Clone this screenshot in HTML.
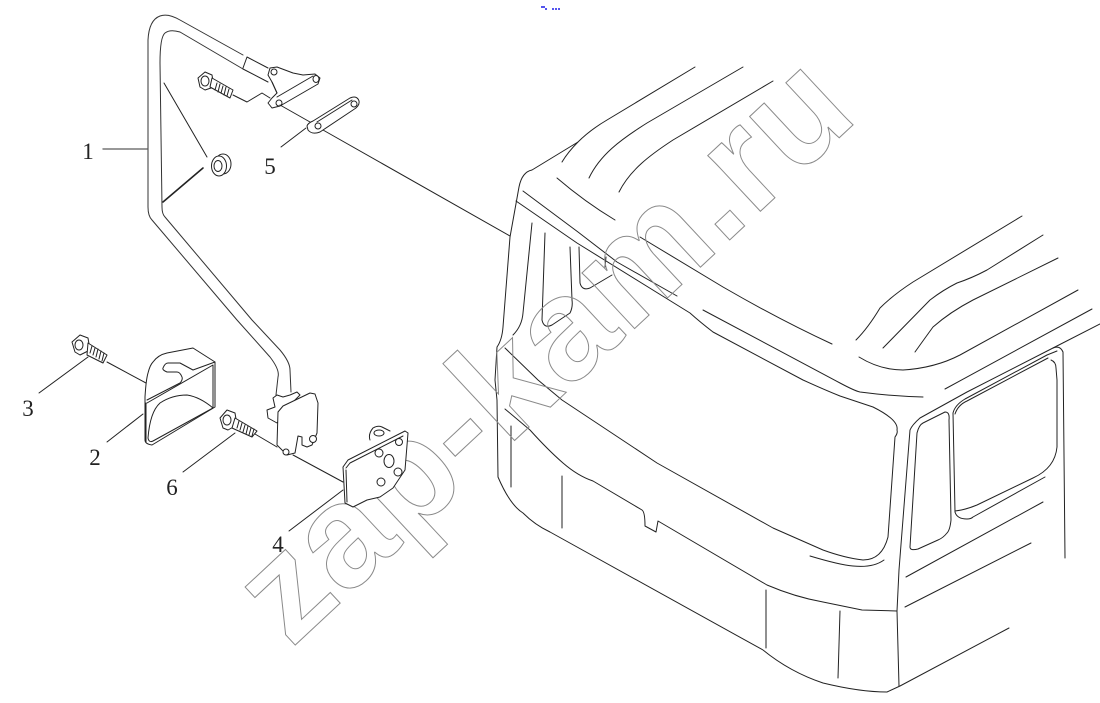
<!DOCTYPE html>
<html><head><meta charset="utf-8"><title>Diagram</title>
<style>
html,body{margin:0;padding:0;background:#fff}
svg{display:block}
.l{fill:none;stroke:#222;stroke-width:1;stroke-linejoin:round;stroke-linecap:round}
.w{fill:#fff;stroke:#222;stroke-width:1;stroke-linejoin:round}
.n{font-family:"Liberation Serif",serif;font-size:23px;fill:#222;text-anchor:middle}
.wm{font-family:"Liberation Sans",sans-serif;font-weight:bold;font-size:145px;fill:none;stroke:#8a8a8a;stroke-width:1;letter-spacing:1.4px}
</style></head><body>
<svg width="1100" height="703" viewBox="0 0 1100 703" xmlns="http://www.w3.org/2000/svg">
<rect x="541" y="6" width="4" height="2" fill="#5555ee"/><rect x="545" y="8" width="2" height="2" fill="#5555ee"/>
<rect x="552" y="8" width="2" height="2" fill="#5555ee"/><rect x="555" y="8" width="2" height="2" fill="#5555ee"/><rect x="558" y="8" width="2" height="2" fill="#5555ee"/>

<g class="l">
<!-- cab outline -->
<path d="M695 67L607 120Q590 130 578 142Q568 152 562 162"/>
<path d="M578 142L532 170Q522 172 519 187L510 237L503 327Q502 340 497 347L495 380L497 400L498 477Q510 505 523 513Q535 525 550 532L763 650Q790 672 823 683Q860 692 887 692L900 686L1009 628"/>
<path d="M557 178Q585 202 615 220"/>
<path d="M589 178C600 155 620 140 647 123L743 67"/>
<path d="M619 192C630 170 650 155 673 140L773 81"/>
<path d="M523 191L578 232L617 262L677 296"/>
<path d="M516 201L577 243L690 313Q700 322 713 332L803 380Q825 390 840 396L873 407Q899 420 897 430"/>
<path d="M640 237L723 287Q780 320 832 344"/>
<path d="M703 310L840 383Q855 391 860 392Q890 396 923 397"/>
<path d="M532 223L523 313Q522 326 513 335"/>
<path d="M545 233L542 320Q544 329 552 325L570 313Q573 307 572 300L570 247"/>
<path d="M579 247L580 283Q582 291 590 288L612 275"/>
<path d="M605 267L606 257"/>
<path d="M505 348L538 380L562 400L657 463L773 528L823 550Q845 558 863 560Q882 560 888 537L895 437Q898 433 897 430"/>
<path d="M505 409L530 430Q548 450 563 463Q578 476 593 481L642 510Q645 512 645 526L656 532L658 521L767 585Q795 597 823 602L862 610L897 611"/>
<path d="M511 426L511 487M562 476L562 528M766 590L766 648M840 611L838 678"/>
<path d="M810 556Q840 565 853 566Q873 568 884 560"/>
<path d="M856 340Q868 328 880 308Q893 295 913 282L1022 216"/>
<path d="M883 348L930 300Q943 290 957 283Q972 278 987 270L1043 235"/>
<path d="M915 352Q925 338 933 327Q950 312 973 300L1058 258"/>
<path d="M859 357Q880 370 903 370Q935 368 960 355L1078 290"/>
<path d="M945 389L1092 309"/>
<path d="M899 570L910 430Q912 425 920 418L967 392L1053 348Q1060 345 1063 352L1065 558"/>
<path d="M1053 348L1100 324"/>
<path d="M897 611L899 570M897 611L899 686"/>
<path d="M910 547L917 433Q919 425 923 423L945 412Q950 412 949 420L951 520Q950 530 947 533Q943 538 938 540L918 549Q910 551 910 547Z"/>
<path d="M955 512L953 413Q955 405 965 399L1047 355L1057 351"/>
<path d="M955 414Q958 405 967 401L1048 358"/>
<path d="M955 512Q957 519 967 519Q971 519 973 517L1045 477"/>
<path d="M1051 360Q1056 362 1056 368L1057 380L1057 447Q1055 468 1033 478L977 505Q965 510 955 511"/>
<path d="M906 577L1043 502M905 607L1031 543"/>
<!-- long axis -->
<path d="M323 130L510 236"/>
</g>

<text class="wm" x="291" y="649" transform="rotate(-43 291 649)">zap-kam.ru</text>

<g class="l">
<!-- bar -->
<path d="M243 55L180 20Q168 13 160 16Q149 20 148 40L148 207Q148 216 152 220L237 320L270 357Q280 370 278 377L276 395" stroke="#333"/>
<path d="M243 69L180 32Q170 29 165 33Q160 37 160 63L162 207Q162 214 165 217L252 320L280 350Q290 362 290 370L291 392" stroke="#333"/>
<path d="M243 68L247 57L268 68M268 82L243 69"/>
<!-- washer leader -->
<path d="M164 83L207 157"/>
<path d="M203 168L163 202" stroke-width="1.6"/>
<path d="M103 149L147 149" stroke="#777" stroke-width="1.4"/>
</g>
<ellipse class="w" cx="223" cy="164" rx="8" ry="10"/>
<ellipse class="w" cx="219" cy="166" rx="7.5" ry="10"/>
<ellipse class="w" cx="218" cy="166" rx="4" ry="5.5"/>

<!-- top bracket -->
<path class="w" d="M268 75L270 68L277 67L293 73L303 75L315 74L320 78L318 84L280 106L272 108L268 103L272 98L277 93L272 82Z"/>
<g class="l"><path d="M277 97L313 76M272 82L277 93"/></g>
<ellipse class="w" cx="274" cy="72" rx="3" ry="3"/>
<ellipse class="w" cx="316" cy="79" rx="3" ry="3.5"/>
<ellipse class="w" cx="279" cy="103" rx="3" ry="3"/>

<!-- top bolt -->
<path class="w" d="M198 78L205 72L212 75L214 87L205 90L200 87Z"/>
<path class="w" d="M212 78L233 90L230 98L210 87Z"/>
<g class="l">
<ellipse cx="205" cy="81" rx="4" ry="5"/>
<path d="M217 83L215 90M220 84L218 92M223 86L221 93M226 87L224 95M229 89L227 96M233 95L247 102L262 93L270 98"/>
</g>

<!-- link 5 -->
<path class="w" d="M307 126Q308 123 313 121L350 98Q357 95 359 101Q360 106 353 110L320 132Q312 135 308 130Z"/>
<g class="l"><path d="M317 122L352 100M280 105L310 122M306 128L281 147"/></g>
<ellipse class="w" cx="318" cy="126" rx="3" ry="3"/>
<ellipse class="w" cx="354" cy="104" rx="3" ry="3"/>

<!-- cover 2 -->
<path class="w" d="M145 397Q146 380 148 373Q150 365 153 362Q158 355 167 353L193 348L215 362L215 407L152 445Q145 444 145 440Z"/>
<g class="l">
<path d="M147 400L180 383Q183 380 182 377Q180 372 177 372L167 372Q162 370 163 368Q165 363 168 363L180 363L193 370L215 362"/>
<path d="M147 403L213 365L213 408M213 408Q200 397 187 395Q172 395 160 403Q150 412 148 438Q149 443 153 441L213 408"/>
<path d="M146 403L146 442"/>
<path d="M143 414L107 442"/>
</g>

<!-- bolt 3 -->
<path class="w" d="M72 342L80 335L88 338L90 350L80 355L75 352Z"/>
<path class="w" d="M88 343L107 355L103 363L87 355Z"/>
<g class="l">
<ellipse cx="79" cy="345" rx="4" ry="5"/>
<path d="M92 346L90 353M95 348L93 355M98 349L96 357M101 351L99 359M104 353L102 361"/>
<path d="M107 362L146 383M88 357L39 393"/>
</g>

<!-- clamp -->
<path class="w" d="M277 395L273 398L275 407L267 410L268 418L277 423L290 405L300 395L297 392L290 395L283 397Z"/>
<path class="w" d="M278 412L283 406L310 393L315 394L318 403L317 433L312 445L307 447L302 445L302 437L298 436L295 453L287 455L280 448L277 445Z"/>
<circle class="w" cx="286" cy="452" r="3"/><circle class="w" cx="313" cy="439" r="3.5"/>

<!-- bolt 6 -->
<path class="w" d="M220 418L227 410L235 413L237 425L228 430L223 428Z"/>
<path class="w" d="M235 418L257 431L252 437L232 428Z"/>
<g class="l">
<ellipse cx="227" cy="420" rx="4" ry="5"/>
<path d="M239 421L237 428M242 423L240 430M245 425L243 432M248 426L246 434M251 428L249 435M254 429L252 436"/>
<path d="M255 434L277 447M293 455L343 482M235 433L183 472"/>
</g>

<!-- plate 4 -->
<g class="l"><path d="M370 440Q368 434 373 428Q378 425 382 427L390 431"/></g>
<ellipse class="w" cx="379" cy="433" rx="5" ry="3"/>
<path class="w" d="M343 467L348 460L405 431L408 433L405 470L393 488L380 497L367 500L353 507L345 503Z"/>
<g class="l"><path d="M346 468L350 463L403 436M346 470L347 502"/><path d="M343 490L289 531"/></g>
<circle class="w" cx="399" cy="442" r="3.5"/><circle class="w" cx="379" cy="453" r="4"/>
<ellipse class="w" cx="389" cy="461" rx="5" ry="6.5"/>
<circle class="w" cx="398" cy="472" r="4"/><circle class="w" cx="381" cy="482" r="4"/>

<text class="n" x="88" y="159">1</text>
<text class="n" x="95" y="465">2</text>
<text class="n" x="28" y="416">3</text>
<text class="n" x="278" y="552">4</text>
<text class="n" x="270" y="174">5</text>
<text class="n" x="172" y="495">6</text>
</svg>
</body></html>
